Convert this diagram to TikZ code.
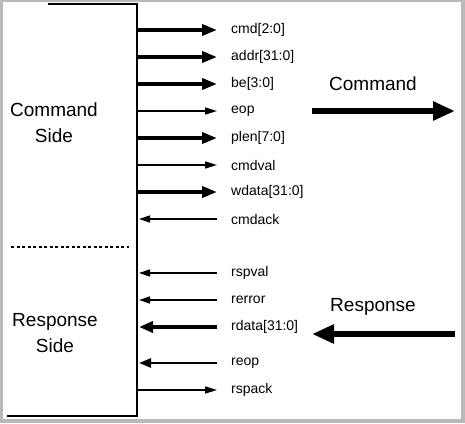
\documentclass[tikz,border=0pt]{standalone}
\usepackage{fontspec}
\setmainfont{Liberation Sans}
\usetikzlibrary{arrows.meta,positioning}

\tikzset{
  sig/.style={font=\fontsize{14}{14}\selectfont, anchor=west, inner sep=0pt},
  side/.style={font=\fontsize{19}{26}\selectfont, align=center, inner sep=0pt},
  busout/.style={line width=3.5pt, -{Triangle[length=15pt,width=11pt]}},
  wireout/.style={line width=1.5pt, -{Triangle[length=12pt,width=7pt]}},
  busin/.style={line width=3.5pt, {Triangle[length=14pt,width=11pt]}-},
  midin/.style={line width=2.6pt, {Triangle[length=12pt,width=9pt]}-},
  wirein/.style={line width=1.5pt, {Triangle[length=11pt,width=7pt]}-},
  bigarrow/.style={line width=6pt, -{Triangle[length=22pt,width=18pt]}}
}

\begin{document}
\begin{tikzpicture}[x=1pt,y=-1pt]
    % Grey frame round the page
    \fill[gray!55] (0,0) rectangle (465,423);
    \fill[white] (3,2) rectangle (461,419);
    \useasboundingbox (0,0) rectangle (465,423);

    % Block outline and divider
    \draw[line width=2pt] (48,3.5) -- (137,3.5) -- (137,416) -- (7,416);
    \draw[line width=1.5pt, dash pattern=on 3pt off 2.5pt] (11,247) -- (129,247);

    \node[side] (cmdside) at (54,123) {Command\\Side};
    \node[side] (rspside) at (55,333) {Response\\Side};

    % Outgoing signals
    \foreach \y/\name/\label/\kind in {30/cmd/{cmd[2:0]}/busout, 57/addr/{addr[31:0]}/busout,
        84/be/{be[3:0]}/busout, 111/eop/{eop}/wireout, 138/plen/{plen[7:0]}/busout,
        165/cmdval/{cmdval}/wireout, 192/wdata/{wdata[31:0]}/busout, 390/rspack/{rspack}/wireout} {
        \node[sig] (\name) at (231,\y) {\label};
        \coordinate (\name src) at (138,\y);
        \draw[\kind] (\name src) -- ([xshift=-14pt]\name.west);
    }

    % Incoming signals
    \foreach \y/\name/\label/\kind in {219/cmdack/{cmdack}/wirein, 273/rspval/{rspval}/wirein,
        300/rerror/{rerror}/wirein, 327/rdata/{rdata[31:0]}/busin, 363/reop/{reop}/midin} {
        \node[sig] (\name) at (231,\y) {\label};
        \coordinate (\name dst) at (139,\y);
        \draw[\kind] (\name dst) -- ([xshift=-14pt]\name.west);
    }

    % Direction arrows
    \node[font=\fontsize{19}{19}\selectfont, inner sep=0pt] (cmdtxt) at (373,84) {Command};
    \coordinate (cmdtail) at (312,111);
    \coordinate (cmdhead) at (455,111);
    \draw[bigarrow] (cmdtail) -- (cmdhead);

    \node[font=\fontsize{19}{19}\selectfont, inner sep=0pt] (rsptxt) at (373,307) {Response};
    \coordinate (rsptail) at (455,334);
    \coordinate (rsphead) at (312,334);
    \draw[bigarrow] (rsptail) -- (rsphead);
\end{tikzpicture}
\end{document}
